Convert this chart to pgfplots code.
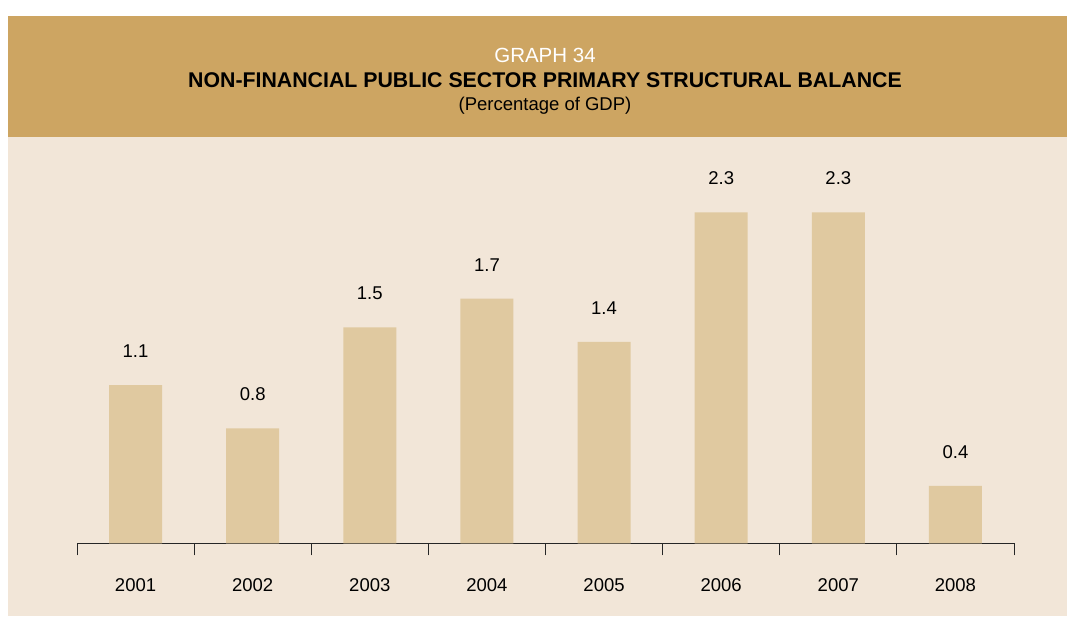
\documentclass[border=0pt]{standalone}
\usepackage{pgfplots}
\pgfplotsset{compat=1.18}
\usepackage{fontspec}
\setmainfont{Liberation Sans}
\definecolor{hdr}{RGB}{205,165,98}
\definecolor{bodybg}{RGB}{242,230,216}
\definecolor{barc}{RGB}{224,201,160}
\begin{document}
\begin{tikzpicture}[x=1pt,y=1pt]
\fill[white] (0,0) rectangle (1067,617);
\fill[hdr] (8,480) rectangle (1067,601);
\fill[bodybg] (8,1) rectangle (1067,480);
\node[white,font=\fontsize{20.5}{22}\selectfont] at (545,562) {GRAPH 34};
\node[black,font=\bfseries\fontsize{21.3}{24}\selectfont] at (545,536.5) {NON-FINANCIAL PUBLIC SECTOR PRIMARY STRUCTURAL BALANCE};
\node[black,font=\fontsize{18.5}{20}\selectfont] at (545,511) {(Percentage of GDP)};
\begin{axis}[
  at={(77pt,73.5pt)}, anchor=south west,
  scale only axis, width=937pt, height=432pt,
  xmin=-0.5, xmax=7.5, ymin=0, ymax=3,
  axis x line*=bottom, axis y line=none,
  x axis line style={line width=1pt, black!85},
  xtick={0,...,7},
  xticklabels={2001,2002,2003,2004,2005,2006,2007,2008},
  major tick length=0pt,
  minor xtick={-0.5,0.5,...,7.5},
  minor tick length=12pt,
  tick align=outside,
  minor tick style={line width=1pt, black!85},
  xticklabel style={anchor=base, yshift=-48.5pt, font=\fontsize{18.5}{20}\selectfont},
  ybar, bar width=53pt,
  nodes near coords,
  nodes near coords style={anchor=base, yshift=27.5pt, font=\fontsize{18.5}{20}\selectfont, black,
    /pgf/number format/.cd, fixed, fixed zerofill, precision=1, assume math mode=true},
  clip=false,
]
\addplot[fill=barc, draw=none] coordinates {
(0,1.1) (1,0.8) (2,1.5) (3,1.7) (4,1.4) (5,2.3) (6,2.3) (7,0.4)};
\end{axis}
\end{tikzpicture}
\end{document}
